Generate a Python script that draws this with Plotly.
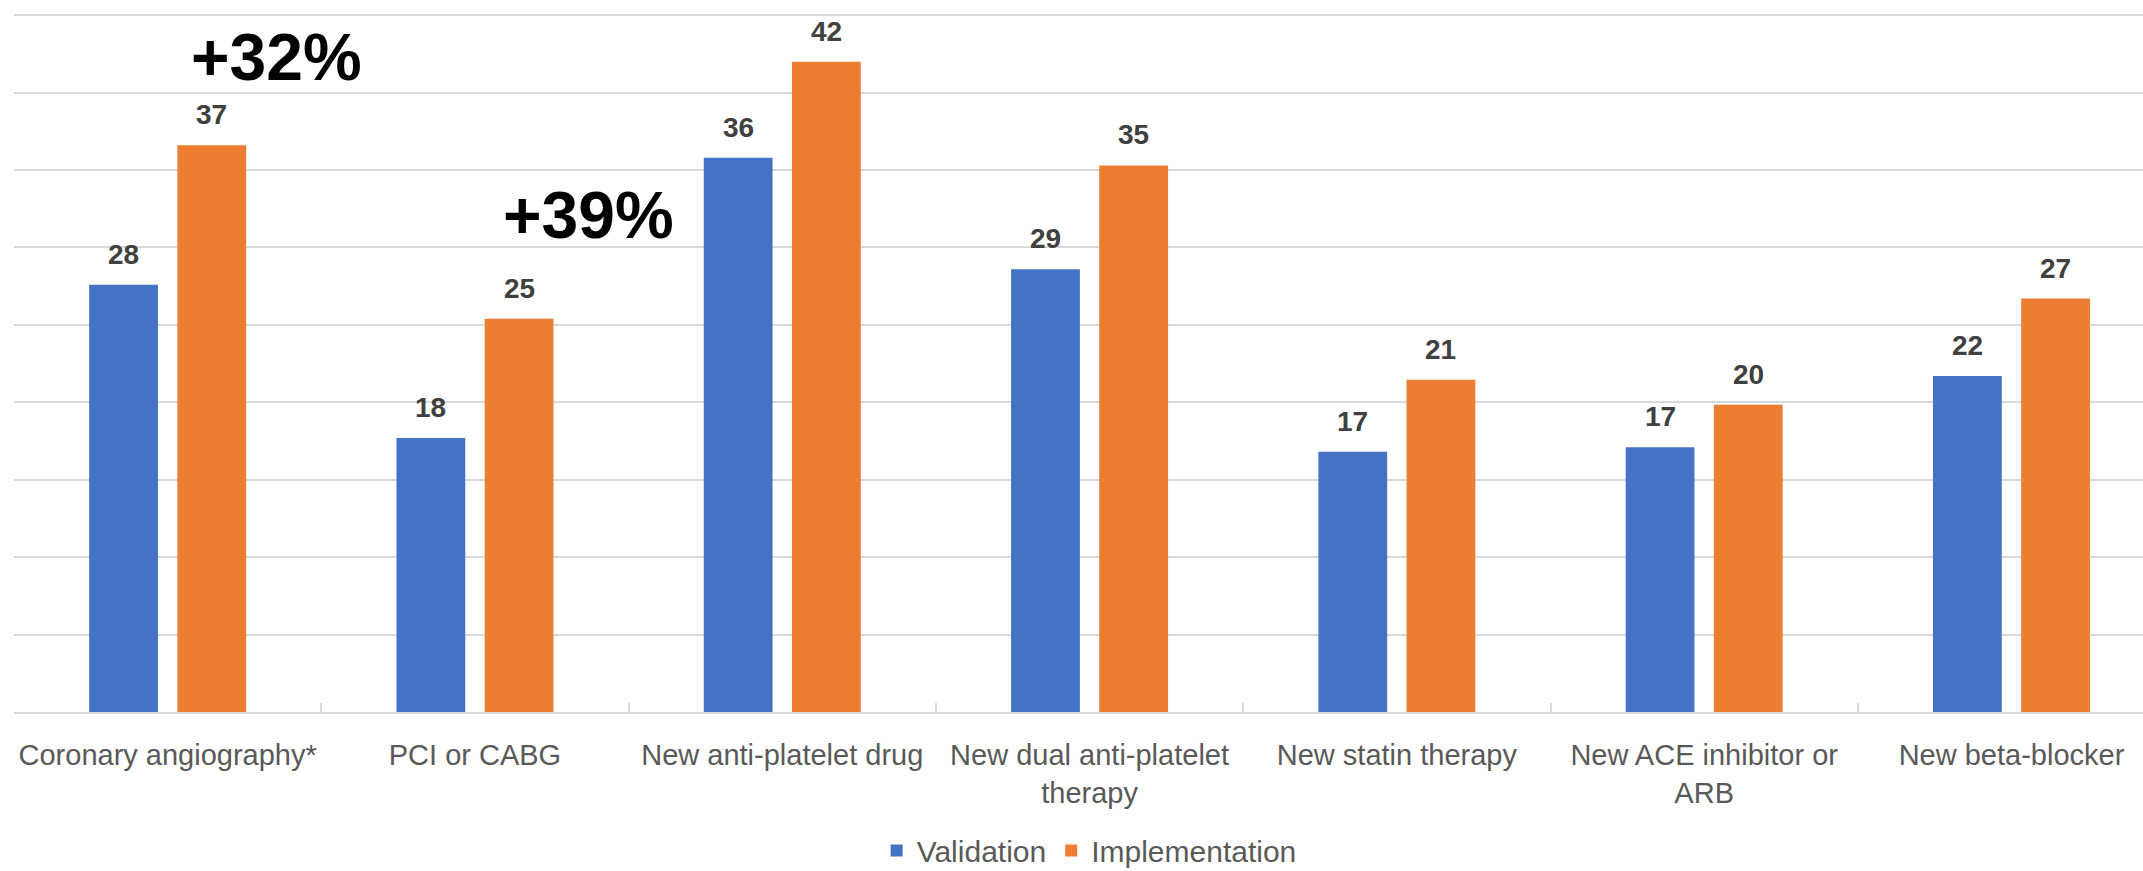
import plotly.graph_objects as go

categories = ["Coronary angiography*", "PCI or CABG", "New anti-platelet drug",
              "New dual anti-platelet therapy", "New statin therapy",
              "New ACE inhibitor or ARB", "New beta-blocker"]
tick_labels = ["Coronary angiography*", "PCI or CABG", "New anti-platelet drug",
               "New dual anti-platelet<br>therapy", "New statin therapy",
               "New ACE inhibitor or<br>ARB", "New beta-blocker"]
validation = [27.6, 17.7, 35.8, 28.6, 16.8, 17.1, 21.7]
implementation = [36.6, 25.4, 42.0, 35.3, 21.45, 19.85, 26.7]
validation_labels = ["28", "18", "36", "29", "17", "17", "22"]
implementation_labels = ["37", "25", "42", "35", "21", "20", "27"]
callouts = ["+32%", "+39%"]
grid_values = [5, 10, 15, 20, 25, 30, 35, 40, 45]

BLUE = "#4472C4"
ORANGE = "#ED7D31"
FONT = "Liberation Sans"
BARGAP = 0.426
BARGROUPGAP = 0.22

fig = go.Figure()
fig.add_trace(go.Bar(name="Validation", x=categories, y=validation,
                     marker=dict(color=BLUE, line=dict(width=0))))
fig.add_trace(go.Bar(name="Implementation", x=categories, y=implementation,
                     marker=dict(color=ORANGE, line=dict(width=0))))

offset = (1 - BARGAP) / 4
annotations = []
for i, cat in enumerate(categories):
    for vals, labs, sgn in ((validation, validation_labels, -1),
                            (implementation, implementation_labels, 1)):
        annotations.append(dict(
            x=i + sgn * offset, y=vals[i], xref="x", yref="y",
            text="<b>%s</b>" % labs[i], showarrow=False,
            xanchor="center", yanchor="bottom", yshift=13,
            font=dict(family=FONT, size=28, color="#404040")))

annotations.append(dict(x=0.354, y=42.3, xref="x", yref="y", text="<b>%s</b>" % callouts[0],
                        showarrow=False, xanchor="center", yanchor="middle",
                        font=dict(family=FONT, size=66, color="#000000")))
annotations.append(dict(x=1.371, y=32.1, xref="x", yref="y", text="<b>%s</b>" % callouts[1],
                        showarrow=False, xanchor="center", yanchor="middle",
                        font=dict(family=FONT, size=66, color="#000000")))

fig.update_layout(
    width=2143, height=871,
    margin=dict(l=14, r=0, t=9, b=159, autoexpand=False),
    paper_bgcolor="white", plot_bgcolor="white",
    barmode="group", bargap=BARGAP, bargroupgap=BARGROUPGAP,
    font=dict(family=FONT, size=29, color="#595959"),
    showlegend=True,
    legend=dict(orientation="h", x=0.505, y=-0.197, xanchor="center", yanchor="middle",
                font=dict(family=FONT, size=30, color="#595959")),
    annotations=annotations,
    xaxis=dict(type="category", range=[-0.5, 6.428], automargin=False,
               tickmode="array", tickvals=categories, ticktext=tick_labels,
               tickangle=0,
               ticks="inside", tickson="boundaries", ticklen=9, tickcolor="#D9D9D9", tickwidth=2,
               showline=True, linecolor="#D9D9D9", linewidth=2,
               showgrid=False, ticklabelstandoff=16,
               tickfont=dict(family=FONT, size=29, color="#595959")),
    yaxis=dict(range=[0, 45.4], tickvals=grid_values,
               showticklabels=False, showgrid=True, automargin=False,
               gridcolor="#D9D9D9", gridwidth=2, zeroline=False, showline=False),
)

fig.write_html("out.html")
